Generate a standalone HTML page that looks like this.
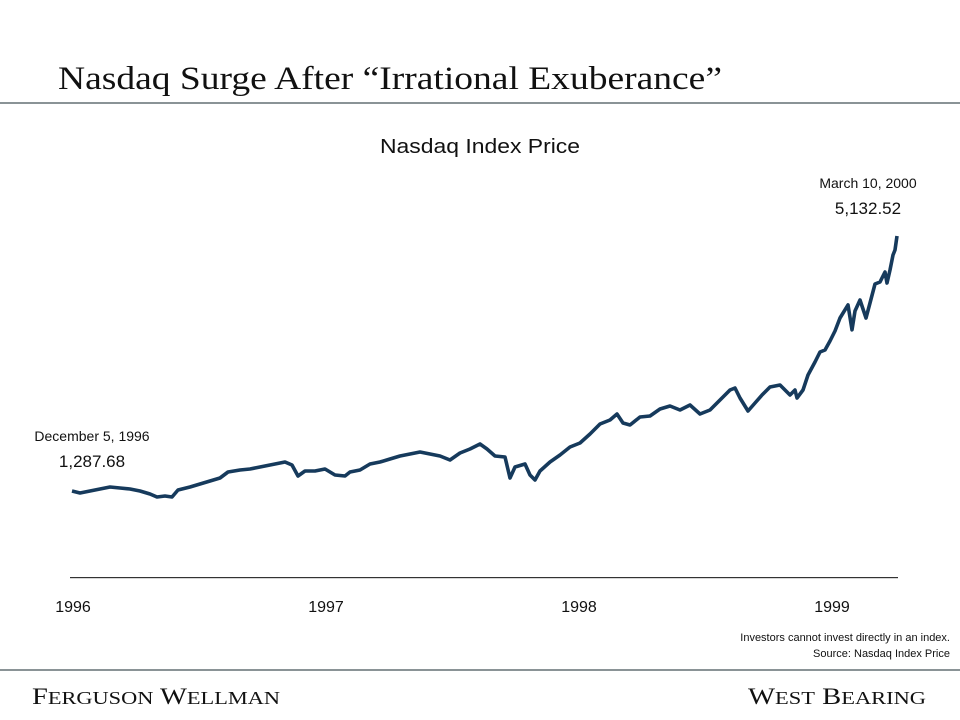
<!DOCTYPE html>
<html><head><meta charset="utf-8"><style>
html,body{margin:0;padding:0;background:#fff;width:960px;height:720px;overflow:hidden}
svg{display:block}
text{font-family:"Liberation Sans",sans-serif;fill:#111}
.serif{font-family:"Liberation Serif",serif}
</style></head><body>
<svg width="960" height="720" viewBox="0 0 960 720">
<text class="serif" x="58" y="89" font-size="33" textLength="664" lengthAdjust="spacingAndGlyphs">Nasdaq Surge After “Irrational Exuberance”</text>
<rect x="0" y="102" width="960" height="2" fill="#8a9396"/>
<text x="480" y="153" font-size="20" text-anchor="middle" textLength="200" lengthAdjust="spacingAndGlyphs">Nasdaq Index Price</text>
<text x="868" y="188" font-size="14" text-anchor="middle">March 10, 2000</text>
<text x="868" y="214" font-size="17" text-anchor="middle">5,132.52</text>
<text x="92" y="441" font-size="14" text-anchor="middle">December 5, 1996</text>
<text x="92" y="467" font-size="17" text-anchor="middle">1,287.68</text>
<g id="chart"></g>
<rect x="70" y="577" width="828" height="1.2" fill="#333"/>
<g id="xticks"></g>
<text x="950" y="641" font-size="11" text-anchor="end">Investors cannot invest directly in an index.</text>
<text x="950" y="657" font-size="11" text-anchor="end">Source: Nasdaq Index Price</text>
<rect x="0" y="669" width="960" height="2" fill="#8a9396"/>
<text class="serif" x="32" y="704" font-size="23" textLength="248" lengthAdjust="spacingAndGlyphs">F<tspan font-size="18">ERGUSON</tspan> W<tspan font-size="18">ELLMAN</tspan></text>
<text class="serif" x="926" y="704" font-size="23" text-anchor="end" textLength="178" lengthAdjust="spacingAndGlyphs">W<tspan font-size="18">EST</tspan> B<tspan font-size="18">EARING</tspan></text>
</svg>
<script>
const tickLabels=["1996","1997","1998","1999"];
const tickYears=[1996,1997,1998,1999];
const dates=[0,8,18,28,38,48,58,68,78,85,93,100,106,118,128,138,148,156,168,178,188,198,213,220,226,233,243,253,263,273,278,288,298,308,318,328,338,348,358,368,378,388,398,408,415,423,433,438,443,453,458,463,468,478,488,498,508,518,528,538,545,551,558,568,578,588,598,608,618,628,638,648,658,663,668,676,683,690,698,708,713,718,723,725,731,736,743,748,753,758,763,768,776,780,783,788,794,798,803,808,813,815,818,821,823,825].map(d=>1996+d/253);
const values=[1288,1258,1288,1318,1348,1333,1318,1288,1242,1197,1212,1197,1303,1348,1393,1438,1484,1574,1604,1619,1650,1680,1725,1680,1514,1589,1589,1619,1529,1514,1574,1604,1695,1725,1770,1815,1846,1876,1846,1815,1755,1861,1921,1996,1921,1815,1800,1484,1650,1695,1529,1454,1589,1725,1831,1951,2012,2147,2298,2358,2449,2313,2283,2404,2419,2524,2570,2509,2585,2449,2509,2660,2811,2841,2690,2494,2615,2735,2856,2886,2811,2735,2811,2690,2811,3037,3233,3384,3414,3550,3700,3896,4093,3716,4002,4168,3896,4123,4409,4439,4590,4424,4620,4846,4922,5133];
const x0=72,pxPerYear=253,vRef=1287.68,yRef=491,pxPerUnit=255/(5132.52-1287.68);
const xs=t=>x0+(t-1996)*pxPerYear;
const ys=v=>yRef-(v-vRef)*pxPerUnit;
const NS="http://www.w3.org/2000/svg";
const g=document.getElementById('chart');
const p=document.createElementNS(NS,'path');
p.setAttribute('d',values.map((v,i)=>(i?'L':'M')+xs(dates[i]).toFixed(1)+','+ys(v).toFixed(1)).join(''));
p.setAttribute('fill','none');p.setAttribute('stroke','#163a5c');p.setAttribute('stroke-width','3.6');p.setAttribute('stroke-linejoin','round');


g.appendChild(p);
const xt=document.getElementById('xticks');
tickLabels.forEach((l,i)=>{const t=document.createElementNS(NS,'text');
t.setAttribute('x',xs(tickYears[i])+1);t.setAttribute('y',612);t.setAttribute('font-size','16');t.setAttribute('text-anchor','middle');t.textContent=l;


xt.appendChild(t);});
</script>
</body></html>
